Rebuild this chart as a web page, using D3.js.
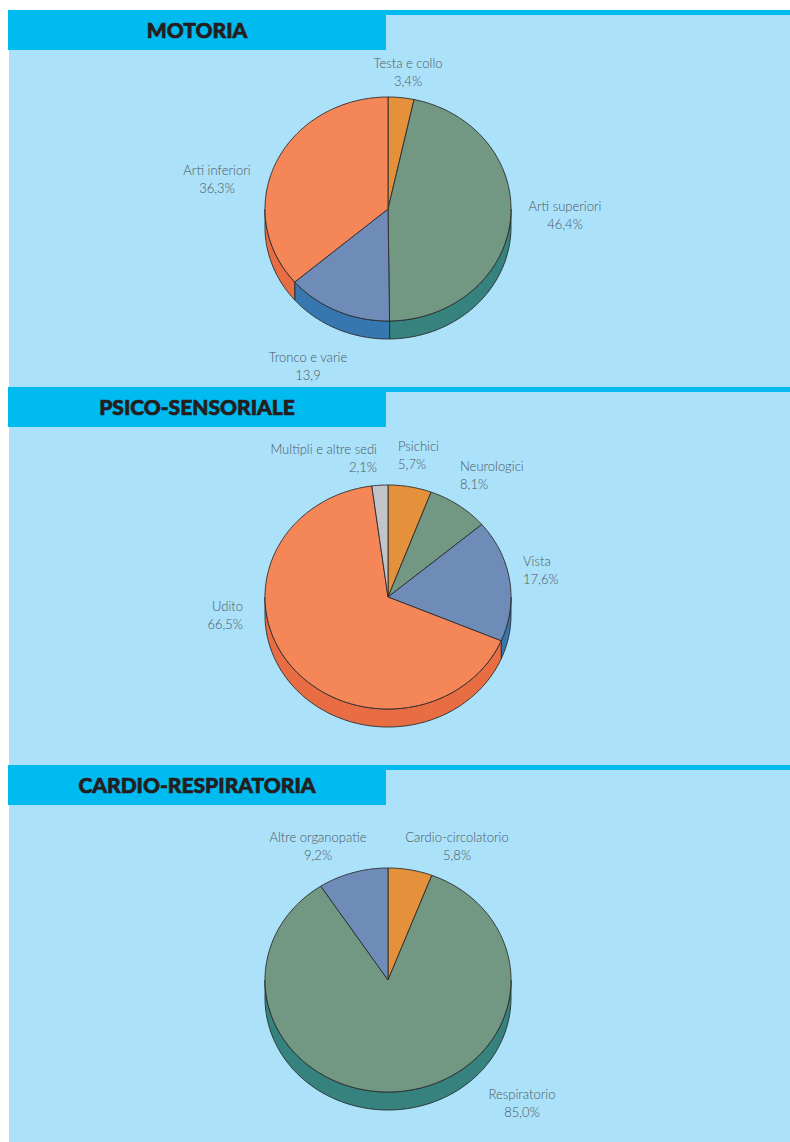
<!DOCTYPE html>
<html>
<head>
<meta charset="utf-8">
<script src="https://cdn.jsdelivr.net/npm/d3@7"></script>
<style>
  body { margin: 0; background: #fff; }
  svg { display: block; }
</style>
</head>
<body>
<svg id="chart" width="790" height="1142"></svg>
<script>
// data
var titles = ['MOTORIA', 'PSICO-SENSORIALE', 'CARDIO-RESPIRATORIA'];

var motoriaLabels = ['Testa e collo', 'Arti superiori', 'Tronco e varie', 'Arti inferiori'];
var motoriaValues = [3.4, 46.4, 13.9, 36.3];
var motoriaText   = ['3,4%', '46,4%', '13,9', '36,3%'];

var psicoLabels = ['Psichici', 'Neurologici', 'Vista', 'Udito', 'Multipli e altre sedi'];
var psicoValues = [5.7, 8.1, 17.6, 66.5, 2.1];
var psicoText   = ['5,7%', '8,1%', '17,6%', '66,5%', '2,1%'];

var cardioLabels = ['Cardio-circolatorio', 'Respiratorio', 'Altre organopatie'];
var cardioValues = [5.8, 85.0, 9.2];
var cardioText   = ['5,8%', '85,0%', '9,2%'];

var
  svg = d3.select('#chart'),
  W = 790,
  bg = '#abe1f9',
  head = '#00bbf0',
  txt = '#4d5862',
  rx = 123, ry = 112, depth = 18,
  palette = {
    orange: ['#e5903a', '#c8762a'],
    green:  ['#729883', '#35827e'],
    blue:   ['#6f8cb8', '#3777b0'],
    salmon: ['#f58658', '#e86d42'],
    grey:   ['#c3c4ca', '#9a9ba2']
  };

var panels = [
  { top: 10, cy: 209, labels: motoriaLabels, values: motoriaValues, text: motoriaText,
    colors: ['orange', 'green', 'blue', 'salmon'],
    pos: [[408, 68, 'middle'], [565, 211, 'middle'], [308, 362, 'middle'], [217, 175, 'middle']] },
  { top: 387, cy: 597, labels: psicoLabels, values: psicoValues, text: psicoText,
    colors: ['orange', 'green', 'blue', 'salmon', 'grey'],
    pos: [[398, 451, 'start'], [460, 471, 'start'], [523, 566, 'start'], [243, 611, 'end'], [377, 454, 'end']] },
  { top: 765, cy: 980, labels: cardioLabels, values: cardioValues, text: cardioText,
    colors: ['orange', 'green', 'blue'],
    pos: [[457, 842, 'middle'], [522, 1099, 'middle'], [318, 842, 'middle']] }
];

// background
svg.append('rect').attr('x', 9).attr('y', 10).attr('width', W - 9).attr('height', 1142 - 10).attr('fill', bg);

var pie = d3.pie().sort(null).value(function(d){ return d; });
var line = d3.line();

function P(cx, cy, a, dy){
  return [cx + rx * Math.sin(a), cy - ry * Math.cos(a) + dy];
}

function arcPts(cx, cy, a0, a1, dy){
  var n = Math.max(2, Math.ceil((a1 - a0) / 0.02)), pts = [];
  for (var i = 0; i <= n; i++) pts.push(P(cx, cy, a0 + (a1 - a0) * i / n, dy));
  return pts;
}

panels.forEach(function(p, k){
  // strip + header
  svg.append('rect').attr('x', 9).attr('y', p.top).attr('width', W - 9).attr('height', 5).attr('fill', head);
  svg.append('rect').attr('x', 8).attr('y', p.top).attr('width', 378).attr('height', 40).attr('fill', head);
  svg.append('text')
    .attr('x', 197).attr('y', p.top + 28)
    .attr('text-anchor', 'middle')
    .style('font-family', 'Lato, "Open Sans", sans-serif')
    .style('font-weight', 900)
    .style('font-size', '21px')
    .attr('fill', '#231f20')
    .attr('stroke', '#231f20').attr('stroke-width', 0.7)
    .text(titles[k]);

  var cx = 388, cy = p.cy, arcs = pie(p.values);
  var g = svg.append('g');

  // side walls (front half only)
  arcs.forEach(function(d, i){
    var a0 = Math.max(d.startAngle, Math.PI / 2), a1 = Math.min(d.endAngle, Math.PI * 1.5);
    if (a1 <= a0) return;
    var pts = arcPts(cx, cy, a0, a1, 0).concat(arcPts(cx, cy, a0, a1, depth).reverse());
    g.append('path')
      .attr('d', line(pts) + 'Z')
      .attr('fill', palette[p.colors[i]][1])
      .attr('stroke', '#2b2b2b').attr('stroke-width', 0.9).attr('stroke-linejoin', 'round');
  });

  // top faces
  arcs.forEach(function(d, i){
    var pts = [[cx, cy]].concat(arcPts(cx, cy, d.startAngle, d.endAngle, 0));
    g.append('path')
      .attr('d', line(pts) + 'Z')
      .attr('fill', palette[p.colors[i]][0])
      .attr('stroke', '#2b2b2b').attr('stroke-width', 0.9).attr('stroke-linejoin', 'round');
  });

  // labels
  p.labels.forEach(function(l, i){
    var q = p.pos[i];
    var t = svg.append('text')
      .attr('x', q[0]).attr('y', q[1])
      .attr('text-anchor', q[2])
      .style('font-family', 'Lato, "Open Sans", sans-serif')
      .style('font-weight', 300)
      .style('font-size', '13px')
      .attr('fill', txt);
    t.append('tspan').attr('x', q[0]).text(l);
    t.append('tspan').attr('x', q[0]).attr('dy', 17.5).text(p.text[i]);
  });
});
</script>
</body>
</html>
